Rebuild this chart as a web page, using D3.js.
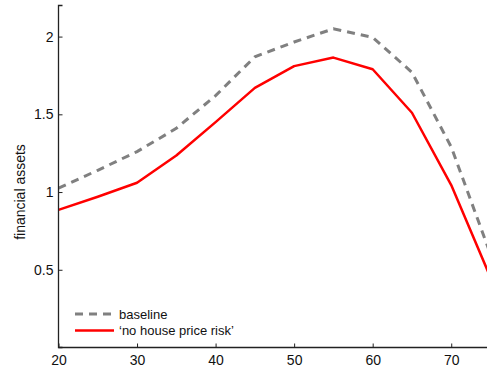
<!DOCTYPE html>
<html>
<head>
<meta charset="utf-8">
<script src="https://cdn.jsdelivr.net/npm/d3@7"></script>
<style>
  html, body { margin: 0; padding: 0; background: #fff; }
  svg { display: block; font-family: "Liberation Sans", Arial, Helvetica, sans-serif; }
</style>
</head>
<body>
<svg id="chart" width="487" height="371"></svg>
<script>
// Financial assets over the life cycle, by age
const ages = [20, 25, 30, 35, 40, 45, 50, 55, 60, 65, 70, 75];
const baseline = [1.025, 1.14, 1.26, 1.41, 1.62, 1.87, 1.965, 2.05, 1.995, 1.77, 1.29, 0.60];
const noHousePriceRisk = [0.885, 0.97, 1.06, 1.235, 1.45, 1.67, 1.81, 1.865, 1.79, 1.51, 1.045, 0.45];
const xTicks = [20, 30, 40, 50, 60, 70];
const yTicks = [0.5, 1, 1.5, 2];
const seriesNames = ["baseline", "\u2018no house price risk\u2019"];

const svg = d3.select("#chart");
const plotLeft = 58.5, plotTop = 5.5, plotBottom = 347.5, plotRight = 490.5;

const x = d3.scaleLinear().domain([20, 75]).range([plotLeft, plotRight]);
const y = d3.scaleLinear().domain([0, 2.2]).range([plotBottom, plotTop]);

svg.append("clipPath").attr("id", "plot-clip")
  .append("rect").attr("x", plotLeft).attr("y", 0)
  .attr("width", plotRight - plotLeft).attr("height", plotBottom);

const line = d3.line().x((d, i) => x(ages[i])).y(d => y(d));

const plot = svg.append("g").attr("clip-path", "url(#plot-clip)");
plot.append("path").datum(baseline)
  .attr("d", line).attr("fill", "none")
  .attr("stroke", "#808080").attr("stroke-width", 3)
  .attr("stroke-dasharray", "8,6");
plot.append("path").datum(noHousePriceRisk)
  .attr("d", line).attr("fill", "none")
  .attr("stroke", "#ff0000").attr("stroke-width", 2.5)
  .attr("stroke-linejoin", "round");

// Axes with inward ticks
const xAxis = d3.axisBottom(x).tickValues(xTicks).tickSize(-4).tickPadding(8).tickFormat(d3.format("d"));
const gx = svg.append("g").attr("transform", `translate(0,${plotBottom})`).call(xAxis);
const yAxis = d3.axisLeft(y).tickValues(yTicks).tickSize(-4).tickPadding(5).tickFormat(d => d);
const gy = svg.append("g").attr("transform", `translate(${plotLeft},0)`).call(yAxis);

[gx, gy].forEach(g => {
  g.select(".domain").attr("stroke", "#222").attr("stroke-width", 1.3);
  g.selectAll(".tick line").attr("stroke", "#222");
  g.selectAll(".tick text").attr("fill", "#111").attr("font-size", 14);
});
gy.select(".domain").attr("d", `M4,${plotTop}H0V${plotBottom}H4`);
gx.select(".domain").attr("d", `M${plotLeft},0H${plotRight}`);

svg.append("text")
  .attr("transform", `translate(25,192) rotate(-90)`)
  .attr("text-anchor", "middle")
  .attr("font-size", 14).attr("fill", "#111")
  .text("financial assets");

// Legend
const legend = svg.append("g").attr("transform", "translate(75,314)");
const styles = [
  { stroke: "#808080", width: 3, dash: "8,6" },
  { stroke: "#ff0000", width: 2.5, dash: null }
];
seriesNames.forEach((name, i) => {
  const row = legend.append("g").attr("transform", `translate(0,${i * 16.5})`);
  row.append("line").attr("x1", 0).attr("x2", 39).attr("y1", 0).attr("y2", 0)
    .attr("stroke", styles[i].stroke).attr("stroke-width", styles[i].width)
    .attr("stroke-dasharray", styles[i].dash);
  row.append("text").attr("x", 44).attr("y", 4.5)
    .attr("font-size", 13).attr("fill", "#111").text(name);
});
</script>
</body>
</html>
